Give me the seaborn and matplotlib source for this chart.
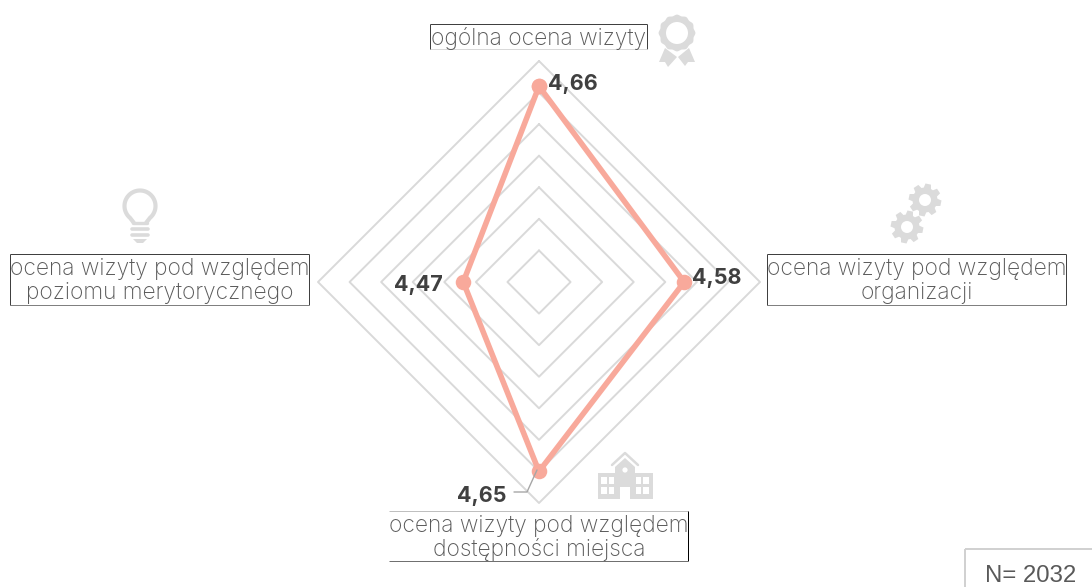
import numpy as np
import pandas as pd
import matplotlib
matplotlib.use("Agg")
import matplotlib.pyplot as plt
import seaborn as sns
from matplotlib.patches import Circle, Polygon, Rectangle

# dane wykresu
categories = ["ogólna ocena wizyty", "ocena wizyty pod względem\norganizacji",
              "ocena wizyty pod względem\ndostępności miejsca",
              "ocena wizyty pod względem\npoziomu merytorycznego"]
values = [4.66, 4.58, 4.65, 4.47]
value_labels = ["4,66", "4,58", "4,65", "4,47"]
ring_levels = [4.40, 4.45, 4.50, 4.55, 4.60, 4.65, 4.70]
r_min = 4.35
n_label = "N= 2032"

LINE = "#F8A99B"
RING = "#D9D9D9"
ICON = "#DBDBDB"
TEXT = "#595959"
BOLD = "#404040"
FONT = "Inter"

sns.set_theme(style="white")
plt.rcParams["font.family"] = [FONT, "DejaVu Sans"]

W, H = 1092, 587
fig = plt.figure(figsize=(W / 100, H / 100), dpi=100, facecolor="white")

# wykres radarowy
cx, cy, rad = 539, 282, 221
ax = fig.add_axes([(cx - rad) / W, (H - cy - rad) / H, 2 * rad / W, 2 * rad / H], projection="polar")
ax.set_theta_zero_location("N")
ax.set_theta_direction(-1)

angles = [i * 2 * np.pi / len(values) for i in range(len(values))]
closed_angles = angles + angles[:1]

for level in ring_levels:
    ring = pd.DataFrame({"theta": closed_angles, "r": [level] * len(closed_angles)})
    sns.lineplot(data=ring, x="theta", y="r", sort=False, estimator=None, ax=ax,
                 color=RING, linewidth=1.4, clip_on=False)

df = pd.DataFrame({"theta": closed_angles, "r": values + values[:1]})
sns.lineplot(data=df, x="theta", y="r", sort=False, estimator=None, ax=ax,
             color=LINE, linewidth=4.0, clip_on=False, solid_joinstyle="round", zorder=4)
sns.scatterplot(data=df, x="theta", y="r", ax=ax, color=LINE, s=125, linewidth=0,
                clip_on=False, zorder=5)
ax.set_rlim(r_min, ring_levels[-1])
ax.axis("off")

# warstwa w pikselach: opisy i ikony
ov = fig.add_axes([0, 0, 1, 1], facecolor="none")
ov.set_xlim(0, W)
ov.set_ylim(H, 0)
ov.axis("off")


def edge(x0, y0, x1, y1, color="#404040", lw=0.72):
    ov.plot([x0, x1], [y0, y1], color=color, lw=lw, solid_capstyle="butt")


def box(x0, y0, x1, y1, top="#404040", right="#404040", bottom="#808080", left="#404040"):
    if top:
        edge(x0, y0, x1, y0, top)
    if right:
        edge(x1, y0, x1, y1, right)
    if bottom:
        edge(x0, y1, x1, y1, bottom)
    if left:
        edge(x0, y0, x0, y1, left)


box(430, 24, 647, 49, bottom="#D9D9D9")
box(767, 254, 1066, 305)
box(10, 254, 309, 305)
box(389, 511, 688, 561, top="#BFBFBF", right="#000000", bottom="#707070", left=None)

label_pos = [(538.5, 38), (916.5, 281), (539, 538), (159.5, 281)]
for label, (x, y) in zip(categories, label_pos):
    ov.text(x, y, label, ha="center", va="center", color=TEXT, fontsize=16.4,
            fontweight="light", linespacing=1.1)

value_pos = [(573, 84), (717, 278), (482, 496), (418, 285)]
for label, (x, y) in zip(value_labels, value_pos):
    ov.text(x, y, label, ha="center", va="center", color=BOLD, fontsize=15.5, fontweight="bold")

# linia odniesienia do etykiety 4,65
ov.plot([537, 527, 514], [470, 492, 492], color="#A6A6A6", lw=1.0, zorder=6)

# ramka N
edge(965, 549, W, 549, "#D0D0D0", 1.4)
edge(965, 549, 965, H, "#D0D0D0", 1.4)
ov.text(1031, 576, n_label, ha="center", va="center", color=TEXT, fontsize=17.3,
        family=["Liberation Sans"])


# ikony
def medal(x, y):
    t = np.linspace(0, 2 * np.pi, 145)
    r = 17.8 + 0.6 * np.cos(12 * t)
    ov.add_patch(Polygon(np.c_[x + r * np.cos(t), y + r * np.sin(t)], color=ICON, lw=0))
    ov.add_patch(Circle((x, y), 11, color="white", lw=0))
    ov.add_patch(Polygon([(665, 48), (677, 57), (668, 67), (665, 62), (659, 62)], color=ICON, lw=0))
    ov.add_patch(Polygon([(689, 48), (678, 57), (685, 66), (688, 62), (695, 62)], color=ICON, lw=0))


def gear(x, y, phase=0.0):
    pts = []
    for k in range(8):
        a = phase + k * np.pi / 4
        for da, r in [(-0.30, 12.5), (-0.17, 16.5), (0.17, 16.5), (0.30, 12.5)]:
            pts.append((x + r * np.cos(a + da), y + r * np.sin(a + da)))
    ov.add_patch(Polygon(pts, color=ICON, lw=0))
    ov.add_patch(Circle((x, y), 6, color="white", lw=0))


def bulb(x, y):
    t = np.radians(np.linspace(130, 410, 80))
    px = x + 15.5 * np.cos(t)
    py = y + 15.5 * np.sin(t)
    px = np.r_[x - 6, px, x + 6]
    py = np.r_[y + 17, py, y + 17]
    ov.plot(px, py, color=ICON, lw=3.0, solid_capstyle="butt", solid_joinstyle="round")
    ov.plot([x - 7, x + 7], [y + 17, y + 17], color=ICON, lw=2.4)
    ov.plot([x - 8, x + 8], [y + 23, y + 23], color=ICON, lw=2.6, solid_capstyle="round")
    ov.plot([x - 8, x + 8], [y + 29, y + 29], color=ICON, lw=2.6, solid_capstyle="round")
    ov.add_patch(Polygon([(x - 7, y + 33), (x + 7, y + 33), (x + 3, y + 37), (x - 3, y + 37)], color=ICON, lw=0))


def school(x, y):
    # x, y: srodek dolnej krawedzi
    ov.add_patch(Rectangle((x - 27.5, y - 26), 55, 26, color=ICON, lw=0))
    ov.add_patch(Polygon([(x - 10, y - 26), (x - 10, y - 32), (x, y - 41), (x + 10, y - 32), (x + 10, y - 26)],
                         color=ICON, lw=0))
    ov.plot([x - 13, x, x + 13], [y - 34, y - 46, y - 34], color=ICON, lw=1.8)
    ov.add_patch(Circle((x, y - 29), 2.6, color="white", lw=0))
    ov.add_patch(Rectangle((x - 5, y - 12), 10, 12, color="white", lw=0))
    for wx in [-24, -16.5, 10.5, 18]:
        for wy in [-22, -12]:
            ov.add_patch(Rectangle((x + wx, y + wy), 5.8, 6.5, color="white", lw=0))


medal(677, 33)
gear(925, 200, 0.2)
gear(907, 227, 0.2)
bulb(140, 206)
school(625, 499)

fig.savefig("out.png", dpi=100)
